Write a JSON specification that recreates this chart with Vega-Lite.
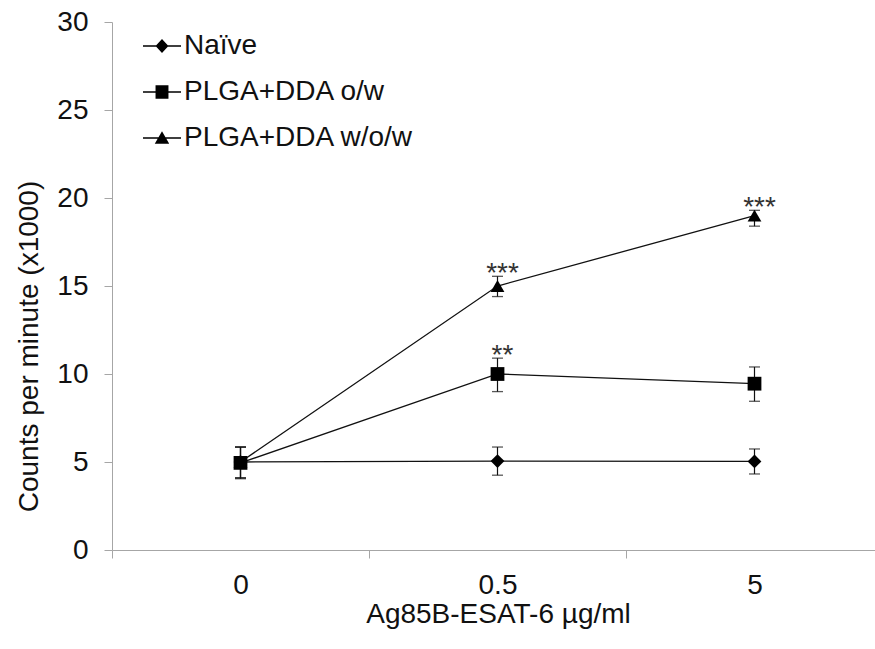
{
  "$schema": "https://vega.github.io/schema/vega-lite/v6.json",
  "autosize": {"type": "none"},
  "padding": {"left": 112, "top": 22, "right": 0, "bottom": 99},
  "width": 763,
  "height": 528,
  "background": "white",
  "config": {
    "view": {"stroke": null},
    "font": "Liberation Sans",
    "axis": {
      "grid": false,
      "domainColor": "#a6a6a6",
      "tickColor": "#a6a6a6",
      "labelFont": "Liberation Sans",
      "labelFontSize": 28,
      "labelColor": "#111",
      "titleFont": "Liberation Sans",
      "titleFontSize": 28,
      "titleFontWeight": "normal",
      "titleColor": "#111"
    }
  },
  "data": {
    "values": [
      {"dose": "0", "group": "PLGA+DDA w/o/w", "mean": 5.0, "lo": 4.1, "hi": 5.85, "sig": ""},
      {"dose": "0.5", "group": "PLGA+DDA w/o/w", "mean": 15.0, "lo": 14.4, "hi": 15.55, "sig": "***"},
      {"dose": "5", "group": "PLGA+DDA w/o/w", "mean": 19.0, "lo": 18.4, "hi": 19.3, "sig": "***"},
      {"dose": "0", "group": "Naïve", "mean": 5.0, "lo": 4.1, "hi": 5.85, "sig": ""},
      {"dose": "0.5", "group": "Naïve", "mean": 5.05, "lo": 4.25, "hi": 5.85, "sig": ""},
      {"dose": "5", "group": "Naïve", "mean": 5.03, "lo": 4.32, "hi": 5.74, "sig": ""},
      {"dose": "0", "group": "PLGA+DDA o/w", "mean": 4.95, "lo": 4.05, "hi": 5.85, "sig": ""},
      {"dose": "0.5", "group": "PLGA+DDA o/w", "mean": 10.0, "lo": 9.0, "hi": 10.9, "sig": "**"},
      {"dose": "5", "group": "PLGA+DDA o/w", "mean": 9.45, "lo": 8.45, "hi": 10.4, "sig": ""}
    ]
  },
  "encoding": {
    "x": {
      "field": "dose",
      "type": "ordinal",
      "sort": ["0", "0.5", "5"],
      "scale": {"type": "band", "range": [0, 771], "paddingInner": 0, "paddingOuter": 0},
      "axis": {
        "title": "Ag85B-ESAT-6 µg/ml",
        "labelAngle": 0,
        "tickBand": "extent",
        "tickSize": 8,
        "labelPadding": 13,
        "titleX": 386,
        "titleY": 72,
        "titleAlign": "center",
        "titleBaseline": "alphabetic"
      }
    }
  },
  "layer": [
    {
      "mark": {"type": "line", "color": "#111", "strokeWidth": 1.3},
      "encoding": {
        "y": {
          "field": "mean",
          "type": "quantitative",
          "scale": {"domain": [0, 30], "nice": false, "zero": true},
          "axis": {
            "title": "Counts per minute (x1000)",
            "values": [0, 5, 10, 15, 20, 25, 30],
            "tickSize": 8,
            "labelPadding": 16,
            "titleX": -75,
            "titleY": 324,
            "titleAlign": "center",
            "titleBaseline": "alphabetic"
          }
        },
        "detail": {"field": "group"}
      }
    },
    {
      "mark": {"type": "rule", "color": "#111", "strokeWidth": 1.2},
      "encoding": {
        "y": {"field": "lo", "type": "quantitative"},
        "y2": {"field": "hi"}
      }
    },
    {
      "mark": {"type": "tick", "orient": "horizontal", "size": 11, "thickness": 1.3, "color": "#111"},
      "encoding": {"y": {"field": "lo", "type": "quantitative"}}
    },
    {
      "mark": {"type": "tick", "orient": "horizontal", "size": 11, "thickness": 1.3, "color": "#111"},
      "encoding": {"y": {"field": "hi", "type": "quantitative"}}
    },
    {
      "mark": {"type": "point", "filled": true, "opacity": 1, "color": "#000", "size": 190},
      "encoding": {
        "y": {"field": "mean", "type": "quantitative"},
        "shape": {
          "field": "group",
          "type": "nominal",
          "scale": {
            "domain": ["Naïve", "PLGA+DDA o/w", "PLGA+DDA w/o/w"],
            "range": ["diamond", "square", "triangle-up"]
          },
          "legend": null
        }
      }
    },
    {
      "transform": [{"filter": "false"}],
      "mark": {"type": "point", "filled": true, "opacity": 1, "color": "#000", "size": 1444},
      "encoding": {
        "y": {"field": "mean", "type": "quantitative"},
        "shape": {
          "field": "group",
          "type": "nominal",
          "scale": {
            "domain": ["Naïve", "PLGA+DDA o/w", "PLGA+DDA w/o/w"],
            "range": [
              "M-1,-0.035H1V0.035H-1Z M0,-0.37L0.34,0L0,0.37L-0.34,0Z",
              "M-1,-0.035H1V0.035H-1Z M-0.34,-0.36H0.34V0.36H-0.34Z",
              "M-1,-0.035H1V0.035H-1Z M0,-0.36L0.38,0.3L-0.38,0.3Z"
            ]
          },
          "legend": {
            "title": null,
            "orient": "none",
            "legendX": 30,
            "legendY": 4,
            "labelFont": "Liberation Sans",
            "labelFontSize": 28,
            "labelColor": "#111",
            "labelLimit": 500,
            "labelOffset": 2,
            "symbolSize": 1444,
            "symbolOpacity": 1,
            "symbolFillColor": "#000",
            "rowPadding": 12
          }
        }
      }
    },
    {
      "transform": [{"filter": "datum.sig !== ''"}],
      "mark": {"type": "text", "font": "Liberation Sans", "fontSize": 28, "color": "#333", "baseline": "alphabetic", "dy": 6, "dx": 5},
      "encoding": {
        "y": {"field": "hi", "type": "quantitative"},
        "text": {"field": "sig"}
      }
    }
  ],
  "resolve": {"scale": {"shape": "independent"}, "legend": {"shape": "independent"}}
}
